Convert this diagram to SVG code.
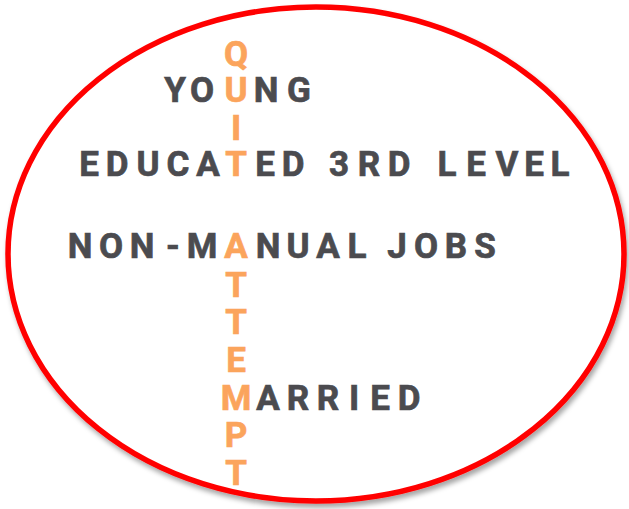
<svg xmlns="http://www.w3.org/2000/svg" width="629" height="509" viewBox="0 0 629 509">
  <defs>
    <filter id="soft-shadow" x="-5%" y="-5%" width="110%" height="112%">
      <feDropShadow dx="2" dy="4" stdDeviation="2.5" flood-color="#000" flood-opacity="0.35"/>
    </filter>
  </defs>
  <style>
    .ring { fill: #ffffff; stroke: #ff0000; stroke-width: 5.5; }
    .word { font-family: Roboto, "Liberation Sans", sans-serif; font-weight: 700; font-size: 35px; text-anchor: middle; stroke-width: 0.7; }
    .dark { fill: #4b4b4f; stroke: #4b4b4f; }
    .accent { fill: #fba45c; stroke: #fba45c; }
  </style>

  <rect width="629" height="509" fill="#ffffff"/>

  <g id="frame">
    <ellipse class="ring" cx="316" cy="254" rx="308" ry="247" filter="url(#soft-shadow)"/>
  </g>

  <!-- vertical acrostic QUIT ATTEMPT: letters not shared with a word -->
  <g id="acrostic" class="word accent">
    <text x="236" y="66">Q</text>
    <text x="236" y="140">I</text>
    <text x="236" y="297">T</text>
    <text x="236" y="334">T</text>
    <text x="236" y="372">E</text>
    <text x="236" y="447">P</text>
    <text x="236" y="485">T</text>
  </g>

  <!-- horizontal words; the shared letter is highlighted in the accent colour -->
  <g id="young" class="word dark">
    <text x="175 202 236 266 299" y="102">YO<tspan class="accent">U</tspan>NG</text>
  </g>

  <g id="educated" class="word dark">
    <text x="89 117 148 178 208 236 265 293 319 339 369 399 423 447 476 507 534 560" y="176">EDUCA<tspan class="accent">T</tspan>ED 3RD LEVEL</text>
  </g>

  <g id="non-manual" class="word dark">
    <text x="80 111 142 173 202 236 268 298 328 357 377 397 426 456 485" y="258">NON-M<tspan class="accent">A</tspan>NUAL JOBS</text>
  </g>

  <g id="married" class="word dark">
    <text x="236 268 298 328 354 380 409" y="410"><tspan class="accent">M</tspan>ARRIED</text>
  </g>
</svg>
